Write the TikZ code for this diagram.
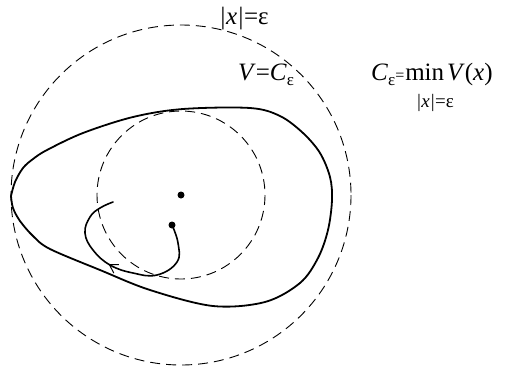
\documentclass[tikz,border=0pt]{standalone}
\usepackage{fontspec}
\setmainfont{Liberation Serif}
\usetikzlibrary{decorations.markings,arrows.meta}
\begin{document}
\begin{tikzpicture}[x=1pt,y=-1pt,
  dashcirc/.style={draw,line width=0.9pt,dash pattern=on 10pt off 6pt},
  levelset/.style={draw,line width=1.8pt,line join=miter},
  traj/.style={draw,line width=1.6pt,line cap=round},
  dot/.style={circle,fill,inner sep=0pt,minimum size=7pt},
  lbl/.style={inner sep=0pt,anchor=base west,font=\fontsize{25}{28}\selectfont},
  sublbl/.style={inner sep=0pt,anchor=base,font=\fontsize{19}{21}\selectfont}]
\useasboundingbox (0,0) rectangle (506,368);
% circles
\coordinate (O) at (181,195);
\draw[dashcirc] (O) circle[radius=170];
\draw[dashcirc] (O) circle[radius=84];
% level set V = C_eps
\draw[levelset] plot[smooth,tension=0.55] coordinates {
 (11,196) (15,182) (23,168) (33,159) (47,150) (83,133) (133,117) (183,109) (250,108)
 (280,116) (303,133) (320,153) (330,177) (332,200) (328,230) (318,258)
 (300,283) (265,302) (213,306)
 (150,290) (100,270) (50,249) (33,236) (20,221) (13,208) (11,196)};
% equilibrium and trajectory start
\node[dot] (c) at (O) {};
\node[dot] (s) at (172,225) {};
\draw[traj, decoration={markings, mark=at position 0.57 with {\arrow[line width=1pt]{Straight Barb[length=8pt,width=10pt]}}}, postaction={decorate}]
 plot[smooth,tension=0.7] coordinates {(172,225) (178,243) (177,262) (157,275) (133,273) (110,265) (93,250) (85,233) (90,217) (100,208) (113,202)};
% labels
\node[lbl] (eps) at (219,24) {\textit{|x|}=ε};
\node[lbl] (V) at (238,80) {\textit{V}=\textit{C}\raisebox{-5pt}{\fontsize{17}{19}\selectfont ε}};
\node[lbl] (C) at (371,80) {\textit{C}\raisebox{-5pt}{\fontsize{17}{19}\selectfont ε}{\fontsize{16}{18}\selectfont =}\kern1pt min\kern3pt\textit{V}(\textit{x})};
\node[sublbl] (sub) at (435,107) {\textit{|x|}=ε};
\end{tikzpicture}
\end{document}
